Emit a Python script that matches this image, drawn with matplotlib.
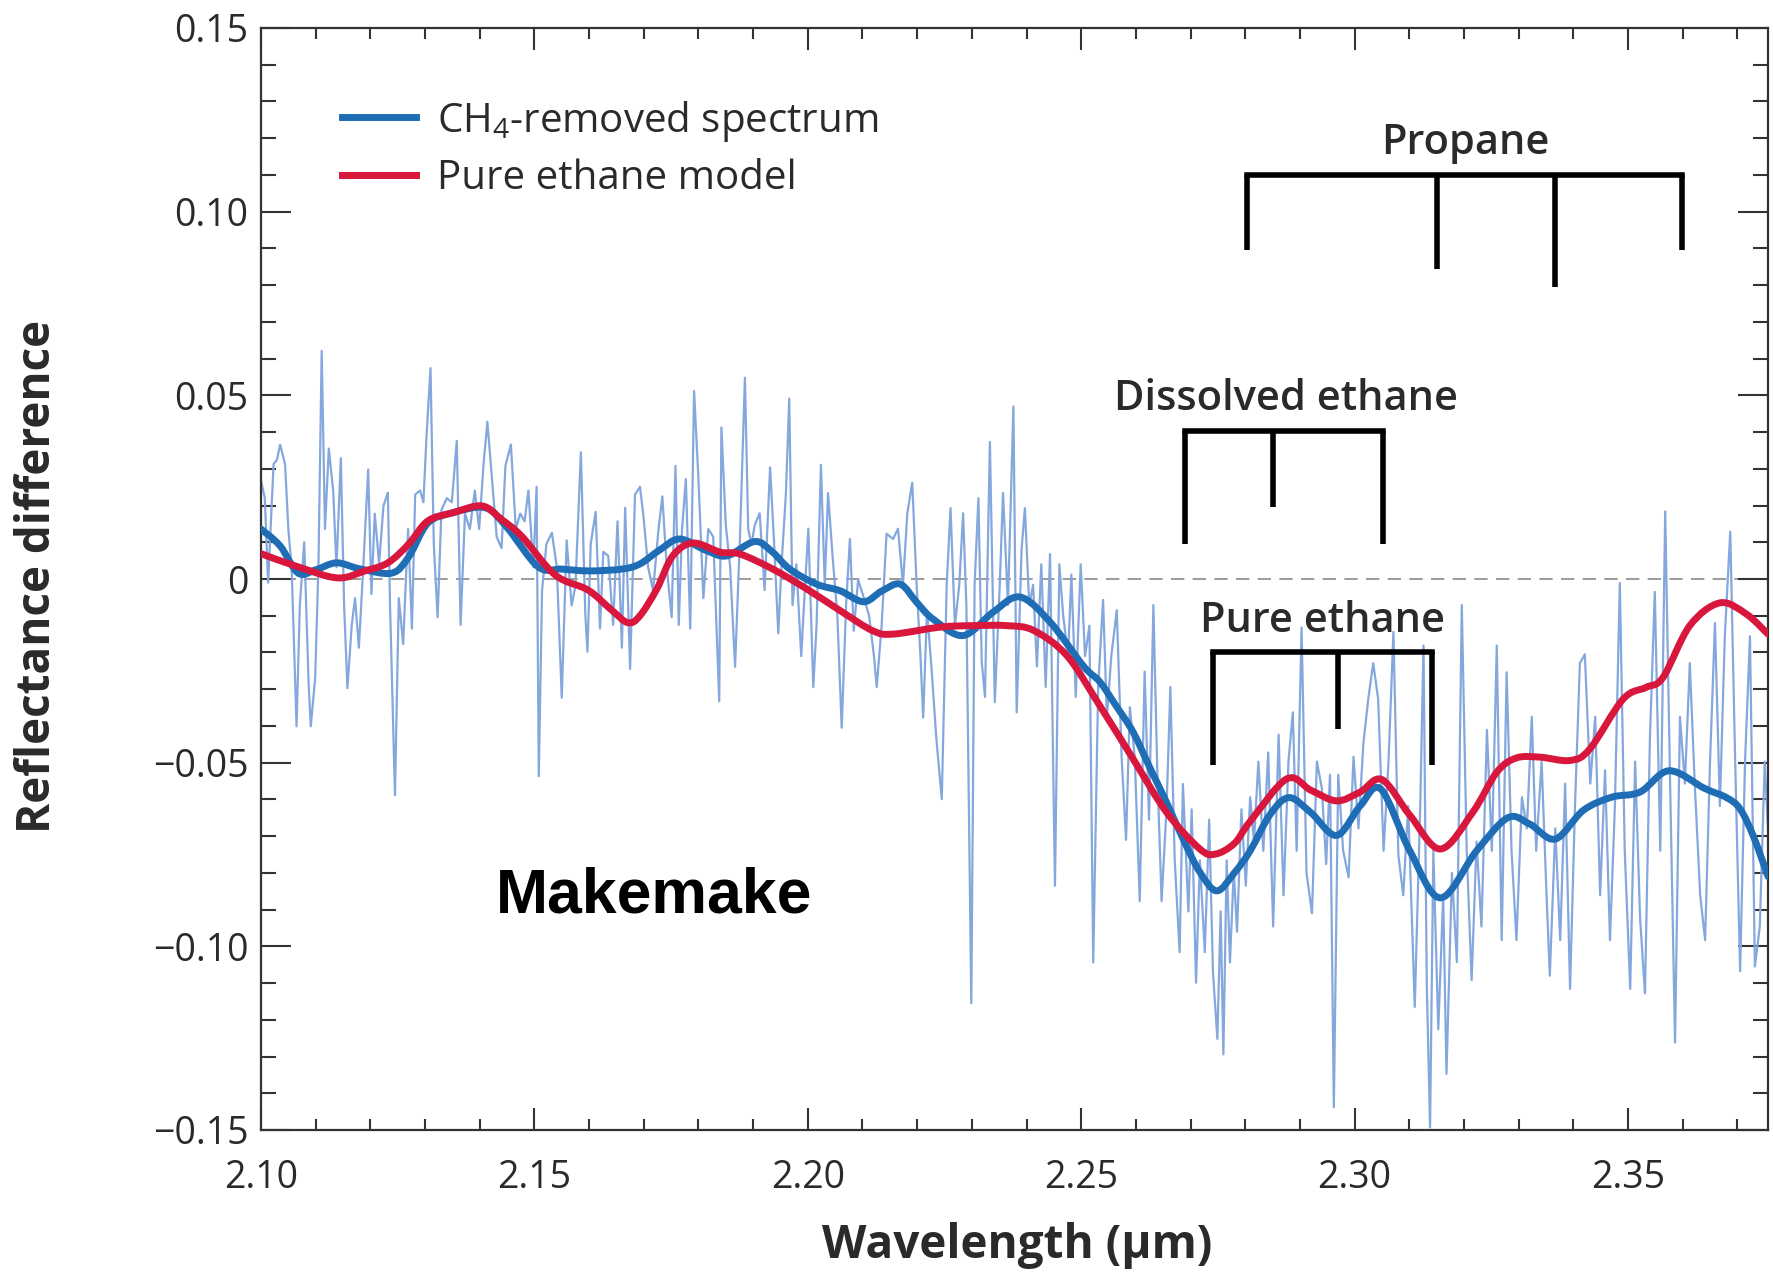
import matplotlib
matplotlib.use("Agg")
import matplotlib.pyplot as plt
from matplotlib.path import Path
from matplotlib.patches import PathPatch
from matplotlib.lines import Line2D
import numpy as np

plt.rcParams["font.family"] = ["Open Sans", "DejaVu Sans"]
plt.rcParams["mathtext.fontset"] = "custom"
plt.rcParams["mathtext.rm"] = "Open Sans"
plt.rcParams["mathtext.it"] = "Open Sans:italic"
plt.rcParams["axes.unicode_minus"] = True

# ---------------------------------------------------------------- data
# high-resolution CH4-removed spectrum (light trace)
noisy_wl = [
    2.1001, 2.1007, 2.1013, 2.1023, 2.1029, 2.1035, 2.1044, 2.1050, 2.1056, 2.1065,
    2.1071, 2.1079, 2.1087, 2.1091, 2.1099, 2.1105, 2.1111, 2.1117, 2.1124, 2.1132,
    2.1138, 2.1146, 2.1152, 2.1158, 2.1166, 2.1172, 2.1179, 2.1187, 2.1196, 2.1202,
    2.1208, 2.1216, 2.1224, 2.1232, 2.1236, 2.1245, 2.1252, 2.1260, 2.1269, 2.1276,
    2.1282, 2.1291, 2.1297, 2.1303, 2.1310, 2.1316, 2.1323, 2.1330, 2.1340, 2.1349,
    2.1358, 2.1365, 2.1373, 2.1382, 2.1391, 2.1399, 2.1407, 2.1414, 2.1422, 2.1431,
    2.1440, 2.1447, 2.1457, 2.1466, 2.1474, 2.1482, 2.1489, 2.1498, 2.1504, 2.1508,
    2.1514, 2.1522, 2.1532, 2.1541, 2.1550, 2.1559, 2.1568, 2.1575, 2.1585, 2.1593,
    2.1597, 2.1603, 2.1612, 2.1620, 2.1626, 2.1635, 2.1644, 2.1652, 2.1660, 2.1666,
    2.1675, 2.1684, 2.1693, 2.1699, 2.1708, 2.1717, 2.1727, 2.1734, 2.1742, 2.1751,
    2.1758, 2.1764, 2.1770, 2.1777, 2.1785, 2.1792, 2.1800, 2.1809, 2.1818, 2.1827,
    2.1838, 2.1842, 2.1850, 2.1858, 2.1867, 2.1876, 2.1885, 2.1891, 2.1897, 2.1903,
    2.1912, 2.1921, 2.1931, 2.1938, 2.1946, 2.1952, 2.1960, 2.1966, 2.1972, 2.1979,
    2.1988, 2.1995, 2.2001, 2.2010, 2.2016, 2.2024, 2.2031, 2.2037, 2.2045, 2.2054,
    2.2062, 2.2070, 2.2077, 2.2084, 2.2092, 2.2101, 2.2112, 2.2121, 2.2126, 2.2135,
    2.2144, 2.2156, 2.2165, 2.2174, 2.2182, 2.2191, 2.2199, 2.2206, 2.2211, 2.2218,
    2.2226, 2.2235, 2.2245, 2.2254, 2.2261, 2.2269, 2.2277, 2.2284, 2.2290, 2.2299,
    2.2305, 2.2312, 2.2318, 2.2324, 2.2333, 2.2342, 2.2351, 2.2357, 2.2366, 2.2376,
    2.2382, 2.2391, 2.2397, 2.2405, 2.2412, 2.2419, 2.2427, 2.2435, 2.2443, 2.2452,
    2.2460, 2.2467, 2.2476, 2.2482, 2.2490, 2.2499, 2.2507, 2.2515, 2.2522, 2.2531,
    2.2540, 2.2547, 2.2555, 2.2565, 2.2574, 2.2582, 2.2589, 2.2598, 2.2607, 2.2616,
    2.2624, 2.2632, 2.2639, 2.2647, 2.2656, 2.2663, 2.2671, 2.2680, 2.2686, 2.2696,
    2.2702, 2.2710, 2.2717, 2.2726, 2.2734, 2.2741, 2.2749, 2.2755, 2.2760, 2.2766,
    2.2772, 2.2779, 2.2785, 2.2793, 2.2801,
    2.2809, 2.2816, 2.2824, 2.2833, 2.2842, 2.2851, 2.2861, 2.2870, 2.2879, 2.2887,
    2.2894, 2.2903, 2.2912, 2.2922, 2.2931, 2.2940, 2.2948, 2.2955, 2.2962, 2.2970,
    2.2979, 2.2989, 2.2998, 2.3007, 2.3016, 2.3025, 2.3034, 2.3043, 2.3053, 2.3062,
    2.3071, 2.3080, 2.3089, 2.3098, 2.3110, 2.3120, 2.3126, 2.3132, 2.3138, 2.3144,
    2.3153, 2.3162, 2.3168, 2.3178, 2.3187, 2.3196, 2.3205, 2.3214, 2.3223, 2.3232,
    2.3242, 2.3251, 2.3260, 2.3269, 2.3278, 2.3287, 2.3296, 2.3306, 2.3315, 2.3324,
    2.3332, 2.3342, 2.3351, 2.3357, 2.3367, 2.3376, 2.3385, 2.3394, 2.3403, 2.3412,
    2.3421, 2.3431, 2.3440, 2.3449, 2.3458, 2.3467, 2.3476, 2.3485, 2.3494, 2.3504,
    2.3513, 2.3522, 2.3531, 2.3540, 2.3549, 2.3559, 2.3568, 2.3577, 2.3586, 2.3595,
    2.3604, 2.3613, 2.3622, 2.3632, 2.3641, 2.3650, 2.3659, 2.3668, 2.3677, 2.3687,
    2.3696, 2.3705, 2.3714, 2.3723, 2.3732, 2.3741, 2.3750, 2.3760,
]
noisy_refl = [
    0.0261, 0.0220, -0.0010, 0.0313, 0.0324, 0.0366, 0.0313, 0.0136, 0.0032, -0.0401,
    -0.0072, 0.0100, -0.0281, -0.0401, -0.0271, 0.0032, 0.0621, 0.0136, 0.0355, 0.0241,
    0.0032, 0.0329, -0.0072, -0.0297, -0.0125, -0.0052, -0.0187, 0.0032, 0.0298, -0.0041,
    0.0178, 0.0042, 0.0199, 0.0235, -0.0072, -0.0589, -0.0052, -0.0177, 0.0136, -0.0135,
    0.0230, 0.0241, 0.0209, 0.0397, 0.0574, 0.0095, -0.0104, 0.0188, 0.0220, 0.0209,
    0.0376, -0.0125, 0.0178, 0.0136, 0.0241, 0.0136, 0.0313, 0.0428, 0.0282, 0.0115,
    0.0084, 0.0308, 0.0366, 0.0136, 0.0178, 0.0157, 0.0241, 0.0032, 0.0251, -0.0537,
    -0.0031, 0.0095, 0.0126, 0.0032, -0.0323, 0.0105, -0.0072, -0.0020, 0.0345, -0.0093,
    -0.0198, 0.0095, 0.0183, -0.0135, 0.0074, 0.0063, -0.0125, 0.0157, -0.0187, 0.0194,
    -0.0245, 0.0230, 0.0251, 0.0178, 0.0032, -0.0031, 0.0136, 0.0225, 0.0032, -0.0104,
    0.0308, -0.0125, 0.0136, 0.0272, -0.0135, 0.0512, 0.0272, -0.0052, 0.0136, 0.0115,
    -0.0333, 0.0413, 0.0147, 0.0032, -0.0239, 0.0115, 0.0548, 0.0136, 0.0095, 0.0147,
    0.0179, -0.0030, 0.0304, 0.0109, -0.0148, 0.0040, 0.0234, 0.0491, -0.0071, 0.0040,
    -0.0210, -0.0016, 0.0137, -0.0294, -0.0127, 0.0311, -0.0016, 0.0234, 0.0068, -0.0099,
    -0.0405, -0.0071, 0.0109, -0.0141, -0.0002, -0.0044, -0.0099, -0.0210, -0.0294, -0.0127,
    0.0123, 0.0109, 0.0137, -0.0016, 0.0179, 0.0262, -0.0016, -0.0210, -0.0377, -0.0085,
    -0.0238, -0.0433, -0.0599, -0.0016, 0.0193, -0.0127, -0.0016, 0.0179, -0.0071, -0.1155,
    -0.0016, 0.0220, -0.0224, -0.0321, 0.0373, -0.0335, -0.0016, 0.0234, -0.0071, 0.0470,
    -0.0363, 0.0082, 0.0193, -0.0071, -0.0016, -0.0238, 0.0040, -0.0294, 0.0068, -0.0835,
    0.0040, -0.0099, -0.0210, 0.0012, -0.0321, 0.0040, -0.0210, -0.0127, -0.1044, -0.0294,
    -0.0057, -0.0377, -0.0210, -0.0085, -0.0488, -0.0710, -0.0349, -0.0488, -0.0877, -0.0252,
    -0.0655, -0.0071, -0.0516, -0.0877, -0.0627, -0.0294, -0.0766, -0.1016, -0.0558, -0.0905,
    -0.0627, -0.1099, -0.0766, -0.1016, -0.0655, -0.1071, -0.1252, -0.0905, -0.1294, -0.0766,
    -0.1044, -0.0794, -0.0960, -0.0627, -0.0835,
    -0.0594, -0.0715, -0.0497, -0.0740, -0.0472, -0.0946, -0.0424, -0.0861, -0.0497, -0.0363,
    -0.0740, -0.0132, -0.0800, -0.0910, -0.0497, -0.0569, -0.0776, -0.0533, -0.1438, -0.0533,
    -0.0740, -0.0812, -0.0484, -0.0679, -0.0448, -0.0326, -0.0229, -0.0326, -0.0740, -0.0497,
    -0.0144, -0.0752, -0.0861, -0.0618, -0.1165, -0.0618, -0.0181, -0.1104, -0.1493, -0.0740,
    -0.1226, -0.0861, -0.1347, -0.0800, -0.1043, -0.0071, -0.0740, -0.1092, -0.0715, -0.0946,
    -0.0411, -0.0740, -0.0181, -0.0983, -0.0254, -0.0740, -0.0983, -0.0594, -0.0679, -0.0375,
    -0.0740, -0.0497, -0.0861, -0.1080, -0.0679, -0.0983, -0.0557, -0.1116, -0.0618, -0.0229,
    -0.0205, -0.0557, -0.0375, -0.0861, -0.0521, -0.0983, -0.0618, -0.0011, -0.0740, -0.1116,
    -0.0497, -0.0922, -0.1128, -0.0436, -0.0035, -0.0740, 0.0184, -0.0557, -0.1262, -0.0375,
    -0.0557, -0.0229, -0.0557, -0.0861, -0.0983, -0.0497, -0.0120, -0.0618, -0.0156, 0.0129,
    -0.0497, -0.1068, -0.0497, -0.0156, -0.1055, -0.0946, -0.0497, -0.0800,
]

# smoothed CH4-removed spectrum
smooth_wl = [
    2.1000, 2.1035, 2.1068, 2.1100, 2.1138, 2.1180, 2.1239, 2.1270, 2.1305, 2.1350,
    2.1410, 2.1450, 2.1507, 2.1550, 2.1600, 2.1660, 2.1693, 2.1730, 2.1766, 2.1815,
    2.1852, 2.1903, 2.1935, 2.1967, 2.2016, 2.2059, 2.2102, 2.2135, 2.2169, 2.2200,
    2.2229, 2.2284, 2.2339, 2.2388, 2.2443, 2.2504, 2.2534, 2.2565, 2.2595, 2.2626,
    2.2656, 2.2687, 2.2717, 2.2748, 2.2780, 2.2809, 2.2845, 2.2880, 2.2920, 2.2967,
    2.3010, 2.3048, 2.3101, 2.3157, 2.3223, 2.3280, 2.3320, 2.3367, 2.3418, 2.3470,
    2.3522, 2.3575, 2.3640, 2.3680, 2.3705, 2.3730, 2.3756,
]
smooth_refl = [
    0.0136, 0.0090, 0.0016, 0.0025, 0.0044, 0.0028, 0.0016, 0.0060, 0.0152, 0.0180,
    0.0194, 0.0140, 0.0033, 0.0027, 0.0022, 0.0027, 0.0041, 0.0080, 0.0109, 0.0077,
    0.0063, 0.0102, 0.0074, 0.0027, -0.0014, -0.0032, -0.0062, -0.0033, -0.0014, -0.0065,
    -0.0109, -0.0154, -0.0090, -0.0049, -0.0117, -0.0237, -0.0280, -0.0348, -0.0417, -0.0515,
    -0.0608, -0.0710, -0.0798, -0.0849, -0.0800, -0.0740, -0.0642, -0.0595, -0.0636, -0.0698,
    -0.0618, -0.0572, -0.0740, -0.0868, -0.0740, -0.0650, -0.0667, -0.0708, -0.0630, -0.0594,
    -0.0580, -0.0522, -0.0570, -0.0595, -0.0626, -0.0703, -0.0810,
]

# pure ethane model
model_wl = [
    2.1000, 2.1068, 2.1140, 2.1190, 2.1232, 2.1270, 2.1305, 2.1350, 2.1404, 2.1440,
    2.1477, 2.1538, 2.1598, 2.1640, 2.1671, 2.1693, 2.1724, 2.1753, 2.1790, 2.1840,
    2.1876, 2.1936, 2.1998, 2.2059, 2.2119, 2.2156, 2.2242, 2.2300, 2.2364, 2.2413,
    2.2474, 2.2534, 2.2595, 2.2656, 2.2717, 2.2745, 2.2780, 2.2809, 2.2876, 2.2920,
    2.2967, 2.3010, 2.3050, 2.3101, 2.3157, 2.3216, 2.3260, 2.3296, 2.3339, 2.3394,
    2.3430, 2.3491, 2.3533, 2.3564, 2.3613, 2.3668, 2.3716, 2.3756,
]
model_refl = [
    0.0069, 0.0033, 0.0003, 0.0022, 0.0044, 0.0095, 0.0158, 0.0180, 0.0199, 0.0162,
    0.0116, 0.0011, -0.0030, -0.0083, -0.0119, -0.0100, -0.0027, 0.0063, 0.0098, 0.0073,
    0.0068, 0.0027, -0.0027, -0.0086, -0.0141, -0.0150, -0.0131, -0.0127, -0.0127, -0.0140,
    -0.0209, -0.0345, -0.0490, -0.0635, -0.0735, -0.0749, -0.0720, -0.0660, -0.0544, -0.0575,
    -0.0604, -0.0580, -0.0546, -0.0643, -0.0735, -0.0635, -0.0526, -0.0487, -0.0485, -0.0494,
    -0.0463, -0.0327, -0.0295, -0.0268, -0.0127, -0.0065, -0.0095, -0.0150,
]

# absorption band markers: band centres, bar level and the lower end of each tick
propane_bands = [2.2803, 2.3151, 2.3367, 2.3599]
propane_ends = [0.0895, 0.0845, 0.0795, 0.0895]
propane_bar = 0.1101
dissolved_bands = [2.2689, 2.2851, 2.3052]
dissolved_ends = [0.0095, 0.0196, 0.0095]
dissolved_bar = 0.0403
pure_bands = [2.2741, 2.2970, 2.3142]
pure_ends = [-0.0506, -0.0407, -0.0506]
pure_bar = -0.0198

x_ticks = [2.10, 2.15, 2.20, 2.25, 2.30, 2.35]
x_tick_labels = ["2.10", "2.15", "2.20", "2.25", "2.30", "2.35"]
y_ticks = [0.15, 0.10, 0.05, 0.0, -0.05, -0.10, -0.15]
y_tick_labels = ["0.15", "0.10", "0.05", "0", "\u22120.05", "\u22120.10", "\u22120.15"]

# ---------------------------------------------------------------- figure
W, H = 1773, 1275
fig = plt.figure(figsize=(W / 100, H / 100), dpi=100)
ax = fig.add_axes([261 / W, 145 / H, (1768 - 261) / W, (1130 - 28) / H])

TXT = "#2a2a2a"
BLUE = "#1f6db4"
RED = "#d9163c"
LIGHT = "#84a7dd"


def smooth_curve(xs, ys, **kw):
    """Draw a curve through the points as Catmull-Rom Bezier segments."""
    p = np.column_stack([xs, ys]).astype(float)
    ext = np.vstack([p[0], p, p[-1]])
    verts = [tuple(p[0])]
    codes = [Path.MOVETO]
    for i in range(1, len(ext) - 2):
        p0, p1, p2, p3 = ext[i - 1], ext[i], ext[i + 1], ext[i + 2]
        c1 = p1 + (p2 - p0) / 6.0
        c2 = p2 - (p3 - p1) / 6.0
        verts += [tuple(c1), tuple(c2), tuple(p2)]
        codes += [Path.CURVE4] * 3
    patch = PathPatch(Path(verts, codes), facecolor="none", **kw)
    ax.add_patch(patch)
    return patch


ax.axhline(0, color="#8a8a8a", lw=1.2, ls=(0, (8, 5)), zorder=1)
ax.plot(noisy_wl, noisy_refl, color=LIGHT, lw=1.6, zorder=2)
smooth_curve(smooth_wl, smooth_refl, edgecolor=BLUE, lw=5, capstyle="round",
             joinstyle="round", zorder=3)
smooth_curve(model_wl, model_refl, edgecolor=RED, lw=5, capstyle="round",
             joinstyle="round", zorder=4)


def band_marker(bands, ends, bar):
    ax.plot([bands[0], bands[-1]], [bar, bar], color="black", lw=4,
            solid_capstyle="projecting", zorder=5)
    for b, e in zip(bands, ends):
        ax.plot([b, b], [bar, e], color="black", lw=4, solid_capstyle="butt", zorder=5)


band_marker(propane_bands, propane_ends, propane_bar)
band_marker(dissolved_bands, dissolved_ends, dissolved_bar)
band_marker(pure_bands, pure_ends, pure_bar)

lab_kw = dict(fontsize=30, fontweight="semibold", color=TXT, ha="center", va="center", zorder=6)
ax.text(2.3202, 0.1188, "Propane", **lab_kw)
ax.text(2.2874, 0.0490, "Dissolved ethane", **lab_kw)
ax.text(2.2942, -0.0113, "Pure ethane", **lab_kw)

ax.text(2.1718, -0.0862, "Makemake", fontsize=45, fontweight="bold",
        family=["Liberation Sans", "DejaVu Sans"], color="black",
        ha="center", va="center")

ax.set_xlim(2.10, 2.3756)
ax.set_ylim(-0.15, 0.15)
ax.set_xticks(x_ticks)
ax.set_xticklabels(x_tick_labels)
ax.set_yticks(y_ticks)
ax.set_yticklabels(y_tick_labels)
ax.set_xticks(np.arange(2.11, 2.376, 0.01), minor=True)
ax.set_yticks(np.arange(-0.14, 0.145, 0.01), minor=True)

ax.tick_params(axis="both", which="both", direction="in", top=True, right=True,
               width=1.5, color="#333333", labelcolor=TXT)
ax.tick_params(axis="y", which="major", length=21.5, labelsize=27, pad=9)
ax.tick_params(axis="y", which="minor", length=11)
ax.tick_params(axis="x", which="major", length=16, labelsize=27, pad=21)
ax.tick_params(axis="x", which="minor", length=8)
for s in ax.spines.values():
    s.set_linewidth(1.6)
    s.set_color("#333333")

ax.set_xlabel("Wavelength (\u00b5m)", fontsize=33, fontweight="bold", color=TXT)
ax.set_ylabel("Reflectance difference", fontsize=33, fontweight="bold", color=TXT)
ax.xaxis.label.set_va("center")
ax.yaxis.label.set_va("center")
ax.xaxis.set_label_coords(0.502, -0.105)
ax.yaxis.set_label_coords(-0.1486, 0.502)

handles = [Line2D([], [], color=BLUE, lw=5), Line2D([], [], color=RED, lw=5)]
labels = ["CH$_4$-removed spectrum", "Pure ethane model"]
leg = ax.legend(handles, labels, loc="upper left", bbox_to_anchor=(0.0537, 0.936),
                frameon=False, fontsize=29, handlelength=1.85, handletextpad=0.5,
                labelspacing=0.38, borderpad=0, borderaxespad=0)
for t in leg.get_texts():
    t.set_color(TXT)

fig.savefig("out.png", dpi=100)
